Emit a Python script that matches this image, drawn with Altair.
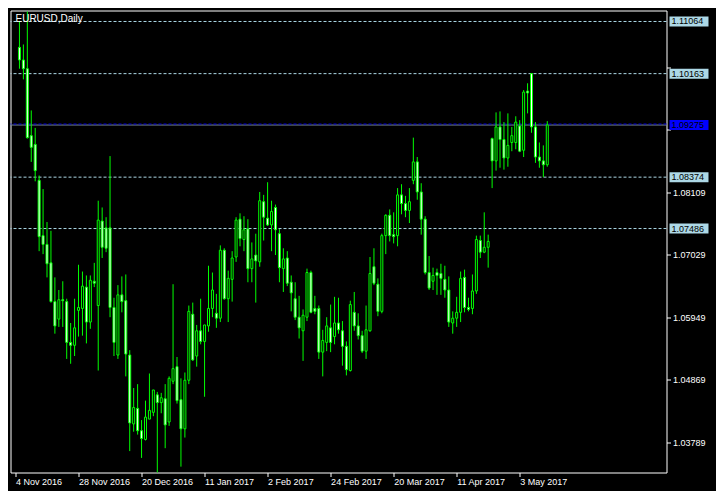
import altair as alt
import pandas as pd

# ---- data (EURUSD daily, bar 0 = 7 Nov 2016) ----
open_ = [
    1.10617, 1.10399, 1.10248, 1.09091, 1.08940, 1.08319, 1.07363, 1.07212, 1.06893, 1.06223,
    1.05921, 1.06256, 1.06223, 1.05518, 1.05468, 1.06072, 1.06105, 1.06474, 1.05870, 1.06575,
    1.06155, 1.07615, 1.07497, 1.07497, 1.06122, 1.05300, 1.06340, 1.06239, 1.05300, 1.04109,
    1.04378, 1.03992, 1.03841, 1.04193, 1.04310, 1.04612, 1.04478, 1.04545, 1.04143, 1.04847,
    1.05099, 1.04529, 1.04025, 1.04864, 1.06005, 1.05283, 1.05719, 1.05535, 1.05803, 1.06105,
    1.06021, 1.05937, 1.07111, 1.06273, 1.06608, 1.06994, 1.07648, 1.07296, 1.07480, 1.06793,
    1.07028, 1.06910, 1.07950, 1.07665, 1.07548, 1.07850, 1.07397, 1.06793, 1.06977, 1.06558,
    1.06273, 1.05954, 1.05719, 1.05954, 1.06726, 1.06105, 1.06105, 1.05350, 1.05518, 1.05770,
    1.05619, 1.05854, 1.05719, 1.05451, 1.05032, 1.06038, 1.05803, 1.05635, 1.05367, 1.05719,
    1.06826, 1.06524, 1.06055, 1.07363, 1.07715, 1.07380, 1.07363, 1.08068, 1.07917, 1.07799,
    1.08319, 1.08638, 1.08118, 1.07648, 1.06726, 1.06575, 1.06726, 1.06709, 1.06608, 1.06424,
    1.05854, 1.05937, 1.06038, 1.06642, 1.06122, 1.06105, 1.06407, 1.07279, 1.07078, 1.07162,
    1.09040, 1.08655, 1.09242, 1.09024, 1.08705, 1.08973, 1.08973, 1.09258, 1.08839, 1.09862,
    1.10164, 1.09242, 1.08722, 1.08655, 1.08588,
]
high = [
    1.11064, 1.10667, 1.11238, 1.09527, 1.09225, 1.08403, 1.08168, 1.07598, 1.07447, 1.06642,
    1.06424, 1.06575, 1.06273, 1.05854, 1.06273, 1.06860, 1.06743, 1.06675, 1.06675, 1.06893,
    1.07967, 1.07850, 1.07682, 1.08738, 1.06290, 1.06508, 1.06659, 1.06692, 1.05384, 1.04730,
    1.04797, 1.04176, 1.04512, 1.04981, 1.04696, 1.04663, 1.04646, 1.04797, 1.04931, 1.06524,
    1.05266, 1.04897, 1.04998, 1.06155, 1.06206, 1.05820, 1.06273, 1.05820, 1.06843, 1.06726,
    1.06357, 1.07195, 1.07145, 1.06759, 1.07095, 1.07682, 1.07749, 1.07699, 1.07648, 1.07246,
    1.07397, 1.08118, 1.08068, 1.08286, 1.07967, 1.07900, 1.07480, 1.07145, 1.07095, 1.06675,
    1.06558, 1.06323, 1.06088, 1.06793, 1.06759, 1.06323, 1.06155, 1.05736, 1.05954, 1.06172,
    1.06306, 1.06290, 1.05887, 1.05535, 1.06239, 1.06390, 1.06021, 1.05719, 1.06155, 1.06994,
    1.07145, 1.06625, 1.07397, 1.07732, 1.07816, 1.07766, 1.08185, 1.08252, 1.08051, 1.08185,
    1.09057, 1.08722, 1.08269, 1.07699, 1.07011, 1.06810, 1.06793, 1.06877, 1.06843, 1.06659,
    1.06055, 1.06306, 1.06743, 1.06776, 1.06290, 1.06692, 1.07363, 1.07363, 1.07766, 1.07380,
    1.09057, 1.09493, 1.09510, 1.09326, 1.09476, 1.09242, 1.09426, 1.09359, 1.09879, 1.09996,
    1.10163, 1.09326, 1.08973, 1.08923, 1.09342,
]
low = [
    1.10248, 1.10064, 1.09040, 1.08638, 1.08302, 1.07095, 1.07044, 1.06642, 1.06206, 1.05669,
    1.05786, 1.05786, 1.05233, 1.05149, 1.05283, 1.05619, 1.05635, 1.05501, 1.05753, 1.06474,
    1.05032, 1.06977, 1.07078, 1.05954, 1.05283, 1.05233, 1.06038, 1.04931, 1.03640, 1.03975,
    1.03925, 1.03522, 1.03824, 1.04193, 1.04243, 1.03270, 1.04294, 1.03690, 1.04076, 1.04797,
    1.04461, 1.03371, 1.03874, 1.04797, 1.05199, 1.05099, 1.05485, 1.04579, 1.05703, 1.05954,
    1.05770, 1.05870, 1.06256, 1.05870, 1.06223, 1.06910, 1.07179, 1.07095, 1.06558, 1.06558,
    1.06206, 1.06826, 1.07279, 1.07531, 1.07095, 1.07028, 1.06558, 1.06390, 1.06491, 1.06055,
    1.05904, 1.05585, 1.05199, 1.05887, 1.06021, 1.06005, 1.05233, 1.04931, 1.05367, 1.05350,
    1.05485, 1.05669, 1.05116, 1.04948, 1.05015, 1.05719, 1.05568, 1.05334, 1.05233, 1.05703,
    1.06508, 1.05971, 1.06021, 1.07044, 1.07263, 1.07229, 1.07179, 1.07732, 1.07682, 1.07581,
    1.08252, 1.07984, 1.07380, 1.06692, 1.06424, 1.06424, 1.06340, 1.06340, 1.06290, 1.05786,
    1.05669, 1.05786, 1.05870, 1.06038, 1.06055, 1.06005, 1.06357, 1.06977, 1.07061, 1.06810,
    1.08185, 1.08487, 1.08537, 1.08504, 1.08554, 1.08822, 1.08856, 1.08806, 1.08722, 1.09476,
    1.09141, 1.08621, 1.08537, 1.08374, 1.08554,
]
close = [
    1.10399, 1.10248, 1.09057, 1.08889, 1.08487, 1.07346, 1.07212, 1.06877, 1.06223, 1.05803,
    1.06256, 1.06239, 1.05518, 1.05468, 1.05770, 1.06122, 1.06491, 1.05870, 1.06592, 1.06541,
    1.07632, 1.07162, 1.07145, 1.06122, 1.05518, 1.06340, 1.06223, 1.05317, 1.04126, 1.04394,
    1.03992, 1.03858, 1.04227, 1.04344, 1.04696, 1.04478, 1.04562, 1.04092, 1.04897, 1.05065,
    1.04512, 1.04025, 1.04864, 1.06055, 1.05216, 1.05719, 1.05535, 1.05820, 1.06105, 1.06424,
    1.05937, 1.07111, 1.06273, 1.06625, 1.06977, 1.07632, 1.07313, 1.07464, 1.06793, 1.06961,
    1.06927, 1.07967, 1.07682, 1.07548, 1.07782, 1.07464, 1.06810, 1.06961, 1.06541, 1.06374,
    1.05954, 1.05770, 1.05988, 1.06726, 1.06038, 1.06055, 1.05350, 1.05552, 1.05803, 1.05518,
    1.05854, 1.05736, 1.05451, 1.05048, 1.06172, 1.05803, 1.05635, 1.05367, 1.05736, 1.06709,
    1.06541, 1.06055, 1.07363, 1.07715, 1.07363, 1.07346, 1.08068, 1.07917, 1.07799, 1.07950,
    1.08638, 1.08118, 1.07648, 1.06726, 1.06457, 1.06675, 1.06675, 1.06625, 1.06424, 1.05870,
    1.05937, 1.06038, 1.06625, 1.06122, 1.06088, 1.06407, 1.07296, 1.07078, 1.07162, 1.07263,
    1.08655, 1.09242, 1.09024, 1.08705, 1.08923, 1.09091, 1.09326, 1.08822, 1.09845, 1.09829,
    1.09242, 1.08722, 1.08655, 1.08588, 1.09275,
]

date_labels = ["4 Nov 2016", "28 Nov 2016", "20 Dec 2016", "11 Jan 2017", "2 Feb 2017",
               "24 Feb 2017", "20 Mar 2017", "11 Apr 2017", "3 May 2017"]
date_label_bars = [-1, 15, 31, 47, 63, 79, 95, 111, 127]

price_ticks = [1.10809, 1.10269, 1.09729, 1.09189, 1.08649, 1.08109, 1.07569,
               1.07029, 1.06489, 1.05949, 1.05409, 1.04869, 1.04329, 1.03789]
level_lines = [1.11064, 1.10163, 1.08374, 1.07486]
current_price = [1.09275]
symbol_title = ["EURUSD,Daily"]

# ---- chart ----
W, H = 656, 462
FONT = "Liberation Sans"
GREEN = "#00FF00"
LEVEL_COLOR = "#ADD8E6"

df = pd.DataFrame({"bar": list(range(len(open_))), "open": open_, "high": high,
                   "low": low, "close": close})
df["dir"] = ["down" if c < o else "up" for o, c in zip(open_, close)]

# 4 px per bar -> crisp candles
xs = alt.Scale(domain=[-1, 163], nice=False, zero=False)
ys = alt.Scale(domain=[1.03270, 1.11254], nice=False, zero=False)

label_map = "{" + ", ".join(f"'{b}': '{t}'" for b, t in zip(date_label_bars, date_labels)) + "}"

# tick labels that sit under the price boxes are hidden (as in the terminal)
boxed = level_lines + current_price
hidden = [t for t in price_ticks if min(abs(t - b) for b in boxed) < 0.0012]
hide_cond = " || ".join(f"abs(datum.value - {h}) < 0.000001" for h in hidden) or "false"

x_axis = alt.Axis(values=date_label_bars, labelExpr=f"{label_map}[''+datum.value]",
                  labelAlign="left", labelColor="white", labelFont=FONT, labelFontSize=9,
                  tickColor="white", tickSize=4, labelPadding=1, domain=False, grid=False,
                  labelOverlap=False, labelFlush=False, title=None)
y_axis = alt.Axis(orient="right", values=price_ticks,
                  labelExpr=f"({hide_cond}) ? '' : format(datum.value, '.5f')",
                  labelColor="white", labelFont=FONT, labelFontSize=9, tickColor="white",
                  tickSize=4, labelPadding=2, domain=False, grid=False, labelOverlap=False,
                  title=None)

base = alt.Chart(df)
wicks = base.mark_rule(color=GREEN, strokeWidth=1).encode(
    x=alt.X("bar:Q", scale=xs, axis=x_axis),
    y=alt.Y("low:Q", scale=ys, axis=y_axis),
    y2="high:Q",
)
bodies = base.mark_bar(size=2, stroke=GREEN, strokeWidth=1).encode(
    x=alt.X("bar:Q", scale=xs),
    y=alt.Y("open:Q", scale=ys),
    y2="close:Q",
    fill=alt.Fill("dir:N", scale=alt.Scale(domain=["down", "up"], range=["white", "black"]),
                  legend=None),
)

lv = pd.DataFrame({"level": level_lines})
cp = pd.DataFrame({"level": current_price})

level_rules = alt.Chart(lv).mark_rule(color=LEVEL_COLOR, strokeDash=[3, 2], strokeWidth=1).encode(
    y=alt.Y("level:Q", scale=ys))
cur_rule = alt.Chart(cp).mark_rule(color="#778899", strokeWidth=1).encode(
    y=alt.Y("level:Q", scale=ys))
cur_dash = alt.Chart(cp).mark_rule(color="#0000DD", strokeDash=[3, 2], strokeWidth=1, yOffset=-1).encode(
    y=alt.Y("level:Q", scale=ys))

level_boxes = alt.Chart(lv).mark_tick(color=LEVEL_COLOR, orient="horizontal", size=39,
                                      thickness=10, opacity=1).encode(
    x=alt.value(W + 22.5), y=alt.Y("level:Q", scale=ys))
level_text = alt.Chart(lv).mark_text(align="left", baseline="middle", font=FONT, fontSize=9,
                                     color="black").encode(
    x=alt.value(W + 5), y=alt.Y("level:Q", scale=ys), text=alt.Text("level:Q", format=".5f"))
cur_box = alt.Chart(cp).mark_tick(color="#0000FF", orient="horizontal", size=39,
                                  thickness=10, opacity=1).encode(
    x=alt.value(W + 22.5), y=alt.Y("level:Q", scale=ys))
cur_text = alt.Chart(cp).mark_text(align="left", baseline="middle", font=FONT, fontSize=9,
                                   color="black").encode(
    x=alt.value(W + 5), y=alt.Y("level:Q", scale=ys), text=alt.Text("level:Q", format=".5f"))

title = alt.Chart(pd.DataFrame({"t": symbol_title})).mark_text(
    align="left", baseline="top", font=FONT, fontSize=10, color="white").encode(
    x=alt.value(5), y=alt.value(3), text="t:N")

chart = alt.layer(
    level_rules, cur_rule, cur_dash, wicks, bodies,
    level_boxes, level_text, cur_box, cur_text, title,
).properties(
    width=W, height=H, background="black",
    autosize=alt.AutoSizeParams(type="none"),
    padding={"left": 2.5, "top": 2.5, "right": 49, "bottom": 18},
).configure_view(stroke="white", strokeWidth=1, fill="black")

chart.save("out.html", embed_options={"renderer": "svg", "actions": False})
